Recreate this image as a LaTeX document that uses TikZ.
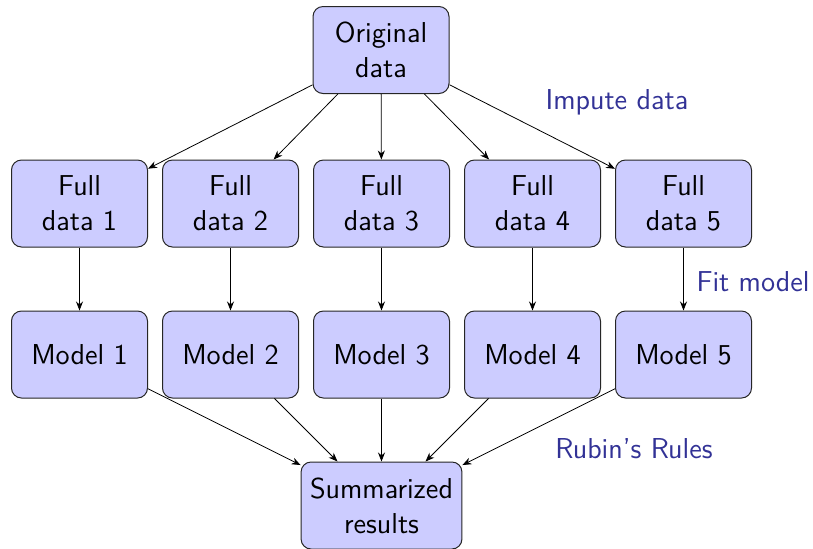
\documentclass[tikz,border=0pt]{standalone}
\usetikzlibrary{arrows.meta}
\definecolor{boxfill}{RGB}{204,204,255}
\definecolor{labelblue}{RGB}{50,50,150}
\begin{document}
\begin{tikzpicture}[x=0.5pt,y=-0.5pt,
  every node/.style={font=\sffamily\fontsize{14.4}{17.5}\selectfont},
  box/.style={draw=black!85, line width=0.5pt, fill=boxfill, rounded corners=5pt,
    align=center, minimum width=68pt, minimum height=43.5pt, inner sep=4.5pt},
  lbl/.style={text=labelblue},
  conn/.style={-{Stealth[length=4.5pt,width=3.5pt]}, line width=0.4pt}]
\useasboundingbox (0,0) rectangle (813,548);
\node[box] (orig) at (381,50) {Original\\data};
\foreach \i/\x in {1/79.5,2/230.5,3/381.5,4/532.5,5/683.5}{
  \node[box] (full\i) at (\x,203.5) {Full\\data \i};
  \node[box] (model\i) at (\x,354.5) {Model \i};
}
\node[box] (sum) at (381.5,505.5) {Summarized\\results};
\foreach \i in {1,...,5}{
  \draw[conn] (orig) -- (full\i);
  \draw[conn] (full\i) -- (model\i);
  \draw[conn] (model\i) -- (sum);
}
\node[lbl] (impute) at (617,102) {Impute data};
\node[lbl] (fit) at (753,282) {Fit model};
\node[lbl] (rubin) at (634,449) {Rubin's Rules};
\end{tikzpicture}
\end{document}
